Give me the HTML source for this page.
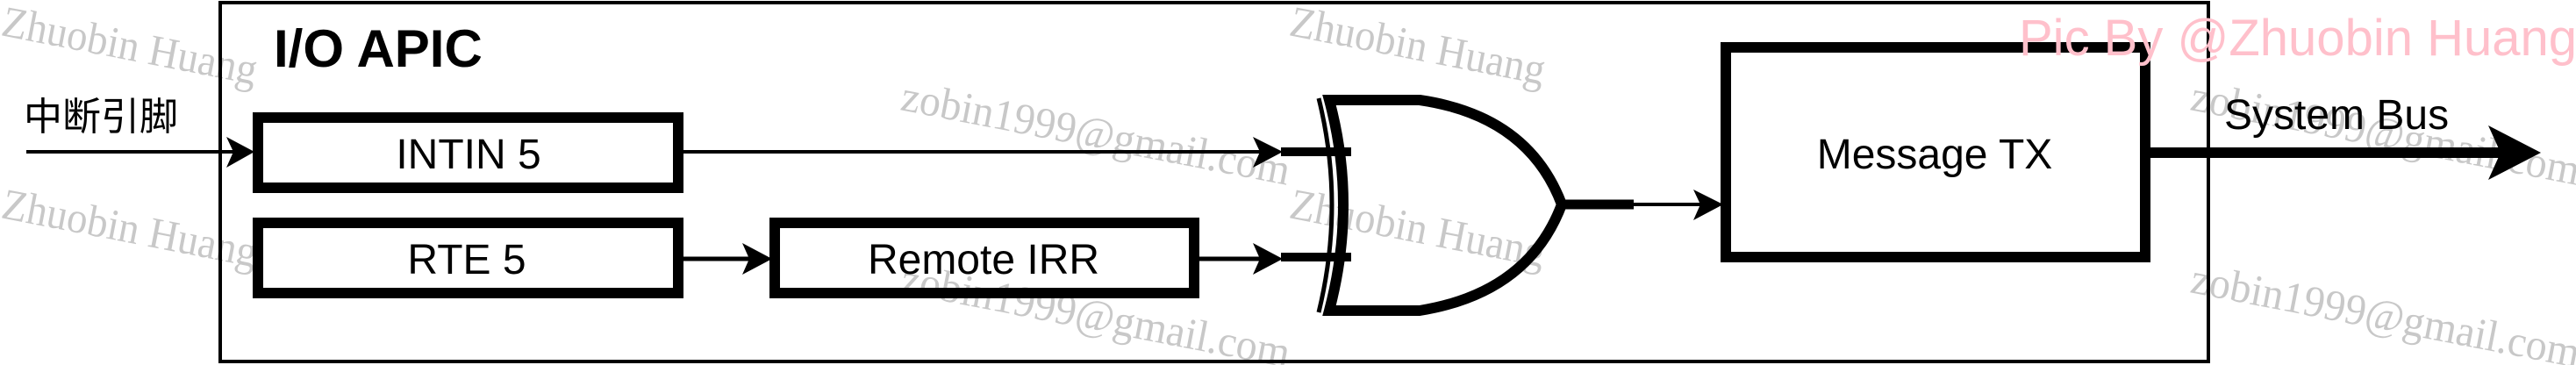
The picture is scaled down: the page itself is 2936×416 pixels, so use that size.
<!DOCTYPE html>
<html><head><meta charset="utf-8"><style>
html,body{margin:0;padding:0;background:#fff;}
svg{display:block;}
text{font-family:"Liberation Sans","Noto Sans CJK SC",sans-serif;}
text.wm{font-family:"Liberation Serif",serif;fill:#c8c8c8;font-size:50px;}
</style></head><body>
<svg width="2936" height="416" viewBox="0 0 2936 416">
<rect x="0" y="0" width="2936" height="416" fill="#fff"/>
<!-- gray watermarks (behind) -->
<g>
<text class="wm" transform="translate(0,40) rotate(11)" textLength="295" lengthAdjust="spacingAndGlyphs">Zhuobin Huang</text>
<text class="wm" transform="translate(0,248) rotate(11)" textLength="295" lengthAdjust="spacingAndGlyphs">Zhuobin Huang</text>
<text class="wm" transform="translate(1468,40) rotate(11)" textLength="295" lengthAdjust="spacingAndGlyphs">Zhuobin Huang</text>
<text class="wm" transform="translate(1468,248) rotate(11)" textLength="295" lengthAdjust="spacingAndGlyphs">Zhuobin Huang</text>
<text class="wm" transform="translate(1025,125) rotate(11)" textLength="450" lengthAdjust="spacingAndGlyphs">zobin1999@gmail.com</text>
<text class="wm" transform="translate(1025,333) rotate(11)" textLength="450" lengthAdjust="spacingAndGlyphs">zobin1999@gmail.com</text>
<text class="wm" transform="translate(2495,125) rotate(11)" textLength="450" lengthAdjust="spacingAndGlyphs">zobin1999@gmail.com</text>
<text class="wm" transform="translate(2495,333) rotate(11)" textLength="450" lengthAdjust="spacingAndGlyphs">zobin1999@gmail.com</text>
</g>
<rect x="251" y="3" width="2266" height="409" fill="none" stroke="#000" stroke-width="4"/>
<text x="312" y="76" font-size="60" font-weight="bold">I/O APIC</text>
<text x="27" y="148" font-size="44">中断引脚</text>
<g>
<line x1="30" y1="173" x2="275" y2="173" stroke="#000" stroke-width="4"/>
<path d="M258,156 L290,173 L258,191 L266,173 Z" fill="#000"/>
</g>
<rect x="294" y="134" width="479" height="80" fill="none" stroke="#000" stroke-width="12"/>
<text x="534" y="192" font-size="48" text-anchor="middle">INTIN 5</text>
<rect x="294" y="254" width="479" height="80" fill="none" stroke="#000" stroke-width="12"/>
<text x="532" y="312" font-size="48" text-anchor="middle">RTE 5</text>
<rect x="883" y="254" width="478" height="80" fill="none" stroke="#000" stroke-width="12"/>
<text x="1121" y="312" font-size="48" text-anchor="middle">Remote IRR</text>
<g>
<line x1="779" y1="173" x2="1440" y2="173" stroke="#000" stroke-width="4"/>
<path d="M1428,156 L1462,173 L1428,191 L1436,173 Z" fill="#000"/>
<line x1="1460" y1="173" x2="1540" y2="173" stroke="#000" stroke-width="10"/>
</g>
<g>
<line x1="779" y1="295" x2="860" y2="295" stroke="#000" stroke-width="5"/>
<path d="M846,277 L880,295 L846,313 L854,295 Z" fill="#000"/>
</g>
<g>
<line x1="1367" y1="295" x2="1440" y2="295" stroke="#000" stroke-width="5"/>
<path d="M1428,277 L1462,295 L1428,313 L1436,295 Z" fill="#000"/>
<line x1="1460" y1="293" x2="1540" y2="293" stroke="#000" stroke-width="10"/>
</g>
<g>
<path d="M1515,114 L1618,114 Q1742,132 1780,233 Q1742,334 1618,354 L1515,354 Q1547,233 1515,114 Z" fill="none" stroke="#000" stroke-width="12"/>
<path d="M1503,112 Q1533,233 1503,356" fill="none" stroke="#000" stroke-width="5"/>
</g>
<g>
<line x1="1780" y1="233" x2="1862" y2="233" stroke="#000" stroke-width="11"/>
<line x1="1860" y1="233" x2="1940" y2="233" stroke="#000" stroke-width="4"/>
<path d="M1930,216 L1964,233 L1930,251 L1938,233 Z" fill="#000"/>
</g>
<rect x="1967" y="54" width="478" height="239" fill="none" stroke="#000" stroke-width="12"/>
<text x="2205" y="192" font-size="48" text-anchor="middle">Message TX</text>
<g>
<line x1="2451" y1="174" x2="2860" y2="174" stroke="#000" stroke-width="12"/>
<path d="M2836,143 L2896,174 L2836,205 L2850,174 Z" fill="#000"/>
</g>
<text x="2535" y="147" font-size="48">System Bus</text>
<text x="2301" y="63" font-size="58" fill="#ffc0cb">Pic By @Zhuobin Huang</text>
</svg>
</body></html>
